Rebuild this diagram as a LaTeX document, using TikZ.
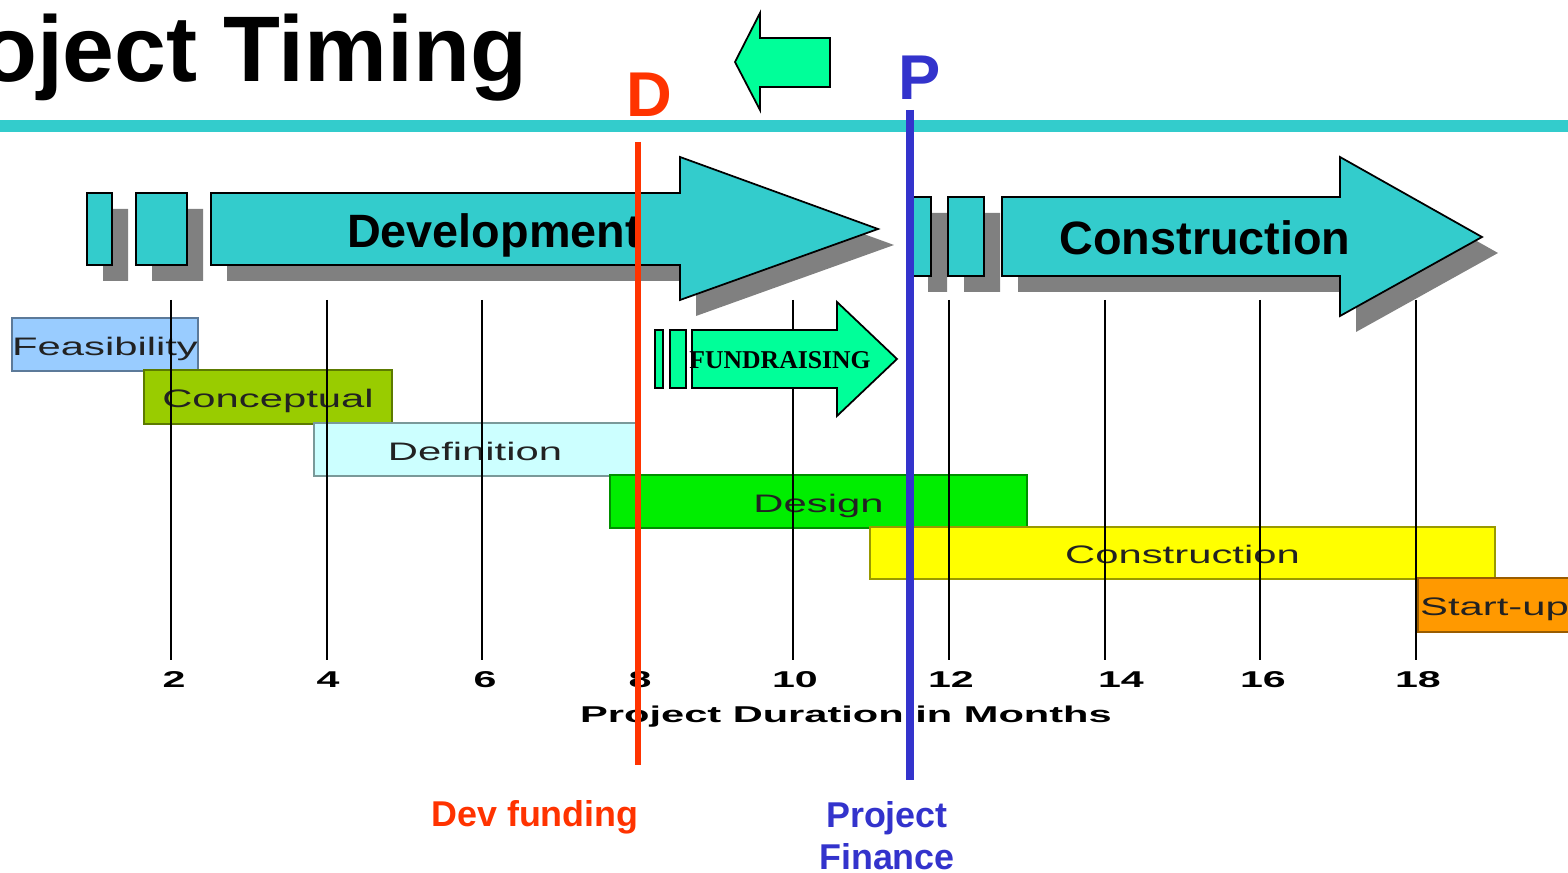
\documentclass[tikz,border=0pt]{standalone}
\usepackage{fontspec}
\setmainfont{Liberation Sans}
\newfontfamily\fundfont{Liberation Serif}
\usepackage{graphicx}
\usepackage{tikz}
\usetikzlibrary{positioning}

\definecolor{devcyan}{HTML}{33CCCC}
\definecolor{shadowgray}{HTML}{808080}
\definecolor{fundgreen}{HTML}{00FF99}
\definecolor{devred}{HTML}{FF3300}
\definecolor{finblue}{HTML}{3333CC}
\definecolor{feasblue}{HTML}{99CCFF}
\definecolor{conceptgreen}{HTML}{99CC00}
\definecolor{defcyan}{HTML}{CCFFFF}
\definecolor{designgreen}{HTML}{00EE00}
\definecolor{buildyellow}{HTML}{FFFF00}
\definecolor{startorange}{HTML}{FF9900}
\definecolor{labelgray}{HTML}{222222}

% stretch text sideways
\newcommand{\widetext}[2]{\scalebox{#1}[1]{#2}}

\tikzset{
  % Define style for outlined arrow shapes
  block/.style={draw=black, line width=0.5pt, fill=devcyan},
  % Define style for drop shadows
  drop/.style={fill=shadowgray, draw=none, shift={(16,16)}},
  % Define style for gantt bars
  phase/.style={
    rectangle,
    draw=#1!60!black, fill=#1,
    line width=0.5pt,
    inner sep=0pt,
    text=labelgray,
    font=\fontsize{7.2}{8}\selectfont,
    text height=6pt, text depth=0pt},
  % Define month grid lines
  monthline/.style={draw=black, line width=0.6pt},
  % Define axis text
  axislabel/.style={inner sep=0pt, font=\bfseries\fontsize{6.5}{8}\selectfont,
    text height=4.65pt, text depth=0pt},
  % Define big arrow labels
  bigtext/.style={inner sep=0pt, font=\bfseries\fontsize{13.3}{15}\selectfont},
  % Define D and P letters
  lettermark/.style={inner sep=0pt, font=\bfseries\fontsize{18}{20}\selectfont},
  % Define funding lines
  fundline/.style={line width=1.8pt},
  % Define labels under the chart
  foot/.style={inner sep=0pt, font=\bfseries\fontsize{10.2}{12.2}\selectfont},
}

\begin{document}
\begin{tikzpicture}[x=0.01cm, y=-0.01cm]
  \useasboundingbox (0,0) rectangle (1568,873);
  \clip (0,0) rectangle (1568,873);
  % title
  \node[anchor=base west, inner sep=0pt, font=\bfseries\fontsize{26.5}{30}\selectfont]
  (title) at (-119,82) {Project Timing};
  \fill[devcyan] (0,120) rectangle (1568,132);
  \filldraw[block, fill=fundgreen] (735,62) -- (760,13) -- (760,38) -- (830,38)
    -- (830,87) -- (760,87) -- (760,110) -- cycle;
  % gantt bars
  \node[phase=feasblue, minimum width=1.84cm, minimum height=0.53cm] (feas) at (105,344.5) {\widetext{1.65}{Feasibility}};
  \node[phase=conceptgreen, minimum width=2.48cm, minimum height=0.54cm] (concept) at (268,397) {\widetext{1.65}{Conceptual}};
  \node[phase=defcyan, minimum width=3.22cm, minimum height=0.53cm] (define) at (475,449.5) {\widetext{1.65}{Definition}};
  \node[phase=designgreen, minimum width=4.17cm, minimum height=0.53cm] (design) at (818.5,501.5) {\widetext{1.65}{Design}};
  \node[phase=buildyellow, minimum width=6.25cm, minimum height=0.52cm] (build) at (1182.5,553) {\widetext{1.65}{Construction}};
  \node[phase=startorange, minimum width=1.53cm, minimum height=0.54cm] (startup) at (1494.5,605) {\widetext{1.65}{Start-up}};
  % month axis
  \foreach \m in {2,4,...,18}
    \draw[monthline] ({15.4+77.8*\m},300) -- ({15.4+77.8*\m},660);
  \foreach \m/\lx in {2/174,4/328,6/485,8/640,10/795,12/951,14/1121,16/1263,18/1418}
    \node[axislabel] (m\m) at (\lx,679.5) {\widetext{1.8}{\m}};
  \node[axislabel, anchor=base] (duration) at (846,723) {\widetext{1.82}{Project Duration in Months}};
  % development arrow
  \fill[drop] (87,193) rectangle (112,265) (136,193) rectangle (187,265)
    (211,193) -- (680,193) -- (680,157) -- (878,229) -- (680,300) -- (680,265) -- (211,265) -- cycle;
  \filldraw[block] (87,193) rectangle (112,265) (136,193) rectangle (187,265)
    (211,193) -- (680,193) -- (680,157) -- (878,229) -- (680,300) -- (680,265) -- (211,265) -- cycle;
  \node[bigtext, anchor=base] (dev) at (494,248) {Development};
  % construction arrow
  \fill[drop] (912,197) rectangle (931,276) (948,197) rectangle (984,276)
    (1002,197) -- (1340,197) -- (1340,157) -- (1482,237) -- (1340,316) -- (1340,276) -- (1002,276) -- cycle;
  \filldraw[block] (912,197) rectangle (931,276) (948,197) rectangle (984,276)
    (1002,197) -- (1340,197) -- (1340,157) -- (1482,237) -- (1340,316) -- (1340,276) -- (1002,276) -- cycle;
  \node[bigtext, anchor=base] (construct) at (1205,255) {Construction};
  % fundraising arrow
  \filldraw[block, fill=fundgreen] (655,330) rectangle (663,388) (670,330) rectangle (686,388)
    (692,330) -- (837,330) -- (837,302) -- (897,359) -- (837,416) -- (837,388) -- (692,388) -- cycle;
  \node[inner sep=0pt, anchor=base, font=\fundfont\bfseries\fontsize{7.3}{8}\selectfont]
  (fund) at (780,369) {FUNDRAISING};
  % funding lines
  \coordinate (dtop) at (638,142);
  \coordinate (dbot) at (638,765);
  \coordinate (ptop) at (910,110);
  \coordinate (pbot) at (910,780);
  \draw[fundline, devred] (dtop) -- (dbot);
  \draw[fundline, finblue, line width=2pt] (ptop) -- (pbot);
  \node[lettermark, text=devred, above=0.25cm of dtop, xshift=0.11cm] (dmark) {D};
  \node[lettermark, text=finblue, above=0.1cm of ptop, xshift=0.1cm] (pmark) {P};
  \node[foot, text=devred, anchor=base] (devfund) at (535,827) {Dev funding};
  \node[foot, text=finblue, align=center, anchor=base] (projfin) at (887,870) {Project\\Finance};
\end{tikzpicture}
\end{document}
